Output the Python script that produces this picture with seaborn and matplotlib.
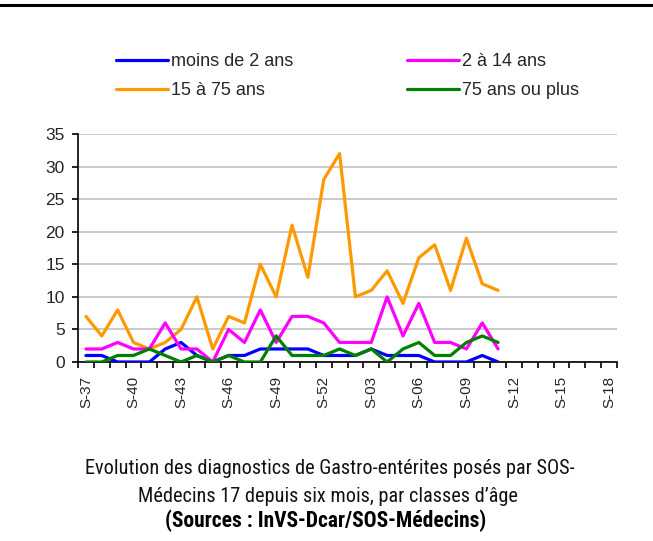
import matplotlib
matplotlib.use("Agg")
import matplotlib.pyplot as plt
import seaborn as sns
import pandas as pd
import numpy as np
from matplotlib.lines import Line2D
from matplotlib.ticker import FixedLocator, NullFormatter
from matplotlib import font_manager

# ---- data ----
weeks = ["S-37", "S-38", "S-39", "S-40", "S-41", "S-42", "S-43", "S-44", "S-45",
         "S-46", "S-47", "S-48", "S-49", "S-50", "S-51", "S-52", "S-01", "S-02",
         "S-03", "S-04", "S-05", "S-06", "S-07", "S-08", "S-09", "S-10", "S-11",
         "S-12", "S-13", "S-14", "S-15", "S-16", "S-17", "S-18"]
moins_2 = [1, 1, 0, 0, 0, 2, 3, 1, 0, 1, 1, 2, 2, 2, 2, 1, 1, 1,
           2, 1, 1, 1, 0, 0, 0, 1, 0]
de_2_14 = [2, 2, 3, 2, 2, 6, 2, 2, 0, 5, 3, 8, 3, 7, 7, 6, 3, 3,
           3, 10, 4, 9, 3, 3, 2, 6, 2]
de_15_75 = [7, 4, 8, 3, 2, 3, 5, 10, 2, 7, 6, 15, 10, 21, 13, 28, 32, 10,
            11, 14, 9, 16, 18, 11, 19, 12, 11]
plus_75 = [0, 0, 1, 1, 2, 1, 0, 1, 0, 1, 0, 0, 4, 1, 1, 1, 2, 1,
           2, 0, 2, 3, 1, 1, 3, 4, 3]
series_names = ["moins de 2 ans", "2 à 14 ans", "15 à 75 ans", "75 ans ou plus"]
series_values = [moins_2, de_2_14, de_15_75, plus_75]
colors = {"moins de 2 ans": "#0000FF", "2 à 14 ans": "#FF00FF",
          "15 à 75 ans": "#FF9900", "75 ans ou plus": "#008000"}
tick_labels = weeks[::3]
caption1 = "Evolution des diagnostics de Gastro-entérites posés par SOS-"
caption2 = "Médecins 17 depuis six mois, par classes d\u2019âge"
caption3 = "(Sources : InVS-Dcar/SOS-Médecins)"

rows = []
for name, vals in zip(series_names, series_values):
    for i, v in enumerate(vals):
        rows.append({"semaine": weeks[i], "pos": i, "valeur": v, "classe": name})
df = pd.DataFrame(rows)

# ---- figure ----
sns.set_theme(style="white")
plt.rcParams["font.family"] = ["Liberation Sans", "DejaVu Sans"]

fig = plt.figure(figsize=(6.53, 5.41), dpi=100)
ax = fig.add_axes([78 / 653, 1 - 362 / 541, (617 - 78) / 653, (362 - 134) / 541])

hue_order = ["moins de 2 ans", "15 à 75 ans", "2 à 14 ans", "75 ans ou plus"]
sns.lineplot(data=df, x="pos", y="valeur", hue="classe", hue_order=hue_order,
             palette=colors, linewidth=2.3, ax=ax, legend=True, zorder=3)

ax.set_xlim(-0.5, len(weeks) - 0.5)
ax.set_ylim(0, 35)
ax.set_yticks(np.arange(0, 36, 5))
ax.set_xlabel("")
ax.set_ylabel("")

ax.yaxis.grid(True, color="#C0C0C0", linewidth=1.2, zorder=0)
ax.xaxis.grid(False)
ax.set_axisbelow(True)

for s in ["top", "right"]:
    ax.spines[s].set_visible(False)
for s in ["left", "bottom"]:
    ax.spines[s].set_color("black")
    ax.spines[s].set_linewidth(1.2)

positions = [weeks.index(l) for l in tick_labels]
ax.set_xticks(positions)
ax.set_xticklabels(tick_labels, rotation=90, fontsize=11)
ax.xaxis.set_minor_locator(FixedLocator(np.arange(-0.5, len(weeks), 1.0)))
ax.xaxis.set_minor_formatter(NullFormatter())
ax.tick_params(axis="x", which="major", length=0, pad=10)
ax.tick_params(axis="x", which="minor", length=4, width=1.2, color="black",
               direction="out", bottom=True)
ax.tick_params(axis="y", which="major", length=4.5, width=1.2, color="black",
               direction="out", left=True, labelsize=12.5, pad=5)

handles, labels = ax.get_legend_handles_labels()
ax.legend_.remove()
for h in handles:
    h.set_linewidth(2.3)
fig.legend(handles, labels, ncol=2, frameon=False, fontsize=13,
           loc="upper left", bbox_to_anchor=(116 / 653, 1 - 53 / 541),
           handlelength=2.9, handletextpad=0.15, columnspacing=6.3,
           labelspacing=0.68, borderpad=0, borderaxespad=0)

fig.add_artist(Line2D([0, 1], [1 - 5 / 541, 1 - 5 / 541], color="black",
                      linewidth=2.2, transform=fig.transFigure))

# caption: prefer a condensed face if one is installed
names = {f.name for f in font_manager.fontManager.ttflist}
cap_family = None
for cand in ["Liberation Sans Narrow", "DejaVu Sans Condensed", "Roboto Condensed",
             "Open Sans Condensed", "Noto Sans Condensed"]:
    if cand in names:
        cap_family = cand
        break
if cap_family is None:
    cap_kw = dict(family=["DejaVu Sans"], fontstretch="condensed")
    size1, size3 = 13.5, 12.5
else:
    cap_kw = dict(family=[cap_family, "DejaVu Sans"])
    size1, size3 = 14.6, 15.5
cond_avail = any((f.name == "DejaVu Sans" and f.stretch == "condensed")
                 for f in font_manager.fontManager.ttflist)
if cap_family is None and not cond_avail:
    cap_kw = dict(family=["Liberation Sans", "DejaVu Sans"])
    size1, size3 = 13.5, 12.5

fig.text(330 / 653, 1 - 468 / 541, caption1, ha="center", va="center",
         fontsize=size1, color="#111111", **cap_kw)
fig.text(328 / 653, 1 - 496 / 541, caption2, ha="center", va="center",
         fontsize=size1, color="#111111", **cap_kw)
fig.text(326 / 653, 1 - 521 / 541, caption3, ha="center", va="center",
         fontsize=size3, weight="bold", color="black", **cap_kw)

fig.savefig("out.png", dpi=100)
